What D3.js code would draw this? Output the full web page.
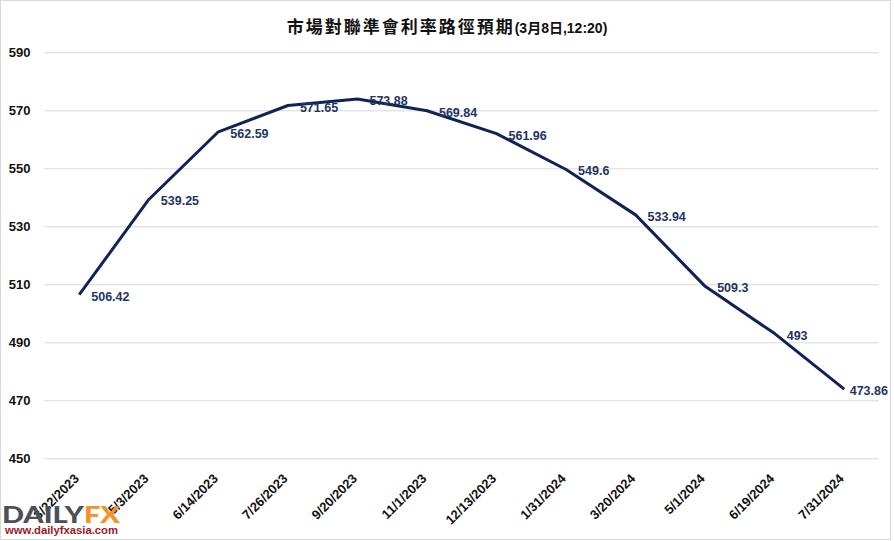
<!DOCTYPE html>
<html>
<head>
<meta charset="utf-8">
<script src="https://cdn.jsdelivr.net/npm/d3@7"></script>
<style>
  html, body { margin: 0; padding: 0; background: #fff; }
  svg { display: block; }
</style>
</head>
<body>
<svg id="chart" width="894" height="541"></svg>
<script>
const titleMain = "市場對聯準會利率路徑預期";
const titleSub = "(3月8日,12:20)";
const dates = ["3/22/2023", "5/3/2023", "6/14/2023", "7/26/2023", "9/20/2023", "11/1/2023",
               "12/13/2023", "1/31/2024", "3/20/2024", "5/1/2024", "6/19/2024", "7/31/2024"];
const values = [506.42, 539.25, 562.59, 571.65, 573.88, 569.84, 561.96, 549.6, 533.94, 509.3, 493, 473.86];
const valueLabels = ["506.42", "539.25", "562.59", "571.65", "573.88", "569.84", "561.96", "549.6", "533.94", "509.3", "493", "473.86"];
const yTicks = [450, 470, 490, 510, 530, 550, 570, 590];

const svg = d3.select("#chart");
const W = 894, H = 541;

svg.append("rect").attr("x", 0).attr("y", 0).attr("width", W).attr("height", H).attr("fill", "#fff");
svg.append("rect").attr("x", 0.5).attr("y", 0.5).attr("width", 890).attr("height", 539)
  .attr("fill", "none").attr("stroke", "#d9d9d9").attr("stroke-width", 1);

const x = d3.scalePoint().domain(dates).range([44.5, 879]).padding(0.5);
const y = d3.scaleLinear().domain([450, 590]).range([458.3, 52.3]);

// gridlines
const yAxis = d3.axisLeft(y).tickValues(yTicks).tickSize(-(879 - 44.5)).tickFormat(d3.format("d"));
const gy = svg.append("g").attr("transform", "translate(44.5,0)").call(yAxis);
gy.select(".domain").remove();
gy.selectAll(".tick line").attr("stroke", "#d9d9d9").attr("stroke-width", 1);
gy.selectAll(".tick text")
  .attr("x", -14)
  .attr("dy", "0.35em")
  .attr("fill", "#111")
  .style("font-family", "'Liberation Sans', Arial, sans-serif")
  .style("font-weight", "bold")
  .style("font-size", "13px")
  .attr("text-anchor", "end");

// x axis labels
const xAxis = d3.axisBottom(x).tickSize(0);
const gx = svg.append("g").attr("transform", "translate(0,458.3)").call(xAxis);
gx.select(".domain").remove();
gx.selectAll(".tick text")
  .attr("y", 0).attr("dy", 0)
  .attr("transform", "translate(0,21) rotate(-45)")
  .attr("text-anchor", "end")
  .attr("fill", "#111")
  .style("font-family", "'Liberation Sans', Arial, sans-serif")
  .style("font-weight", "bold")
  .style("font-size", "13px");

// line
const line = d3.line().x((d, i) => x(dates[i])).y(d => y(d));
svg.append("path").datum(values)
  .attr("d", line)
  .attr("fill", "none")
  .attr("stroke", "#0e2458")
  .attr("stroke-width", 3)
  .attr("stroke-linejoin", "round");

// data labels
const lbl = svg.append("g").selectAll("text").data(values).join("text")
  .attr("x", (d, i) => x(dates[i]) + 12)
  .attr("y", d => y(d) + 6)
  .attr("fill", "#1f3464")
  .style("font-family", "'Liberation Sans', Arial, sans-serif")
  .style("font-weight", "bold")
  .style("font-size", "12.5px")
  .text((d, i) => valueLabels[i]);
lbl.each(function() {
  const bb = this.getBBox();
  if (bb.x + bb.width > 888) d3.select(this).attr("x", 888 - bb.width);
});

// title
const t = svg.append("text")
  .attr("x", 447).attr("y", 33)
  .attr("text-anchor", "middle")
  .attr("fill", "#111")
  .style("font-weight", "bold");
t.append("tspan")
  .style("font-family", "'Noto Sans CJK TC', sans-serif")
  .style("font-size", "17px")
  .style("letter-spacing", "2px")
  .text(titleMain);
t.append("tspan")
  .style("font-family", "'Liberation Sans', 'Noto Sans CJK TC', sans-serif")
  .style("font-size", "14px")
  .text(titleSub);

// logo
const logo = svg.append("text")
  .attr("x", 2).attr("y", 523)
  .attr("textLength", 118).attr("lengthAdjust", "spacingAndGlyphs")
  .style("font-family", "Lato, 'Liberation Sans', sans-serif")
  .style("font-weight", "900")
  .style("font-size", "22px");
logo.append("tspan").attr("fill", "#4b5059").text("DAILY");
logo.append("tspan").attr("fill", "#f39325").text("FX");
svg.append("text")
  .attr("x", 5).attr("y", 534)
  .attr("textLength", 113).attr("lengthAdjust", "spacingAndGlyphs")
  .attr("fill", "#9b1b1f")
  .style("font-family", "'Liberation Sans', Arial, sans-serif")
  .style("font-weight", "bold")
  .style("font-size", "11px")
  .text("www.dailyfxasia.com");
</script>
</body>
</html>
